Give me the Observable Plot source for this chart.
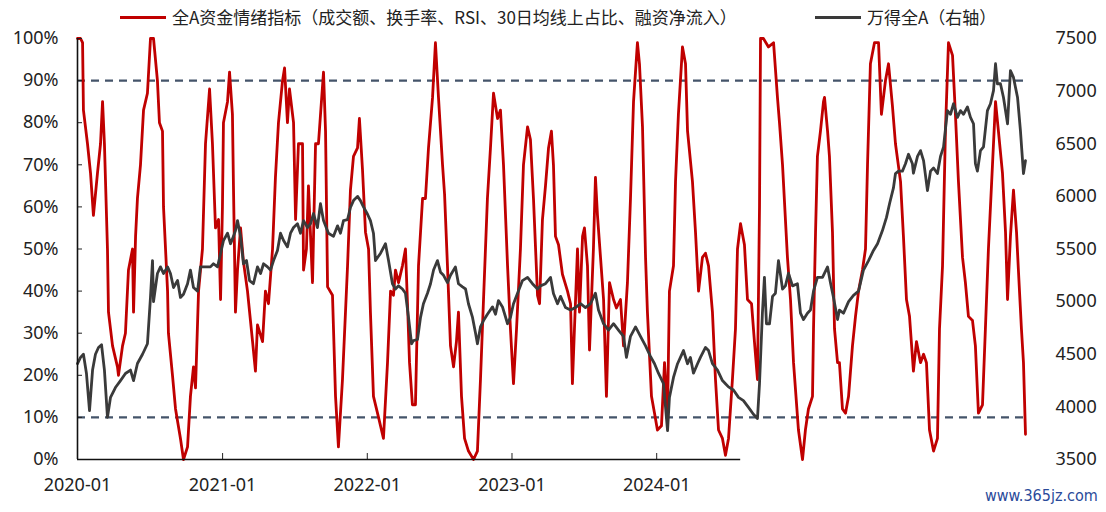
<!DOCTYPE html>
<html>
<head>
<meta charset="utf-8">
<script src="https://cdn.jsdelivr.net/npm/d3@7"></script>
<script src="https://cdn.jsdelivr.net/npm/@observablehq/plot@0.6"></script>
<style>
  html, body { margin: 0; padding: 0; background: #fff; }
  #wrap { position: relative; width: 1106px; height: 512px; overflow: hidden; font-family: "Noto Sans", "Noto Sans CJK SC", sans-serif; }
  #legend { position: relative; height: 22px; font-family: "Noto Sans CJK SC", sans-serif; font-size: 17px; color: #222; }
  .item { position: absolute; top: 5px; display: flex; align-items: center; white-space: nowrap; line-height: 24px; }
  .sw { display: inline-block; width: 46px; height: 3px; margin-right: 6px; }
  #wm { position: absolute; left: 985px; top: 486px; font-size: 16px; color: #2a4a9a; font-family: "Liberation Sans Narrow", "DejaVu Sans Condensed", sans-serif; }
  #chart svg { overflow: visible; }
</style>
</head>
<body>
<div id="wrap">
  <div id="legend"></div>
  <div id="chart"></div>
  <div id="wm"></div>
</div>
<script>
// ---- Data (time = years since 2020-01-01) ----
const seriesNames = ["全A资金情绪指标（成交额、换手率、RSI、30日均线上占比、融资净流入）", "万得全A（右轴）"];
const watermark = "www.365jz.com";

// Sentiment index (%), left axis
const redT = [0,.021,.035,.041,.069,.090,.110,.138,.159,.173,.186,.207,.214,.242,.276,.283,.311,.331,.352,.380,.387,.401,.414,.435,.456,.483,.504,.525,.552,.566,.587,.594,.622,.628,.656,.677,.711,.732,.760,.780,.801,.815,.836,.863,.884,.912,.932,.953,.974,.988,
1.001,1.008,1.036,1.050,1.070,1.077,1.091,1.105,1.126,1.146,1.174,1.209,1.229,1.243,1.278,1.298,1.319,1.347,1.367,1.388,1.416,1.430,1.450,1.464,1.492,1.506,1.526,1.554,1.561,1.581,1.595,1.623,1.644,1.664,1.699,1.713,1.727,1.761,1.782,1.802,1.830,1.865,1.885,1.906,1.934,1.947,1.968,1.989,
2.010,2.023,2.044,2.079,2.113,2.141,2.162,2.182,2.196,2.217,2.244,2.265,2.279,2.293,2.313,2.334,2.355,2.383,2.403,2.424,2.452,2.472,2.493,2.521,2.535,2.555,2.576,2.597,2.617,2.631,2.652,2.673,2.700,2.735,2.762,2.783,2.804,2.831,2.852,2.873,2.901,2.921,2.942,2.970,2.990,
3.011,3.032,3.059,3.080,3.108,3.128,3.149,3.177,3.191,3.211,3.232,3.253,3.273,3.287,3.301,3.322,3.349,3.384,3.405,3.418,3.432,3.453,3.467,3.488,3.501,3.522,3.536,3.563,3.577,3.591,3.612,3.633,3.653,3.674,3.702,3.722,3.750,3.771,3.798,3.819,3.840,3.867,3.881,3.902,3.923,3.936,3.964,3.985,
4.005,4.033,4.054,4.075,4.088,4.116,4.130,4.150,4.178,4.199,4.213,4.247,4.268,4.289,4.316,4.337,4.358,4.385,4.406,4.427,4.454,4.475,4.496,4.523,4.544,4.558,4.579,4.606,4.627,4.655,4.675,4.696,4.710,4.717,4.737,4.772,4.807,4.834,4.848,4.869,4.903,4.924,4.945,4.979,
5.007,5.027,5.048,5.076,5.083,5.097,5.110,5.131,5.152,5.159,5.180,5.193,5.214,5.228,5.249,5.262,5.283,5.304,5.325,5.352,5.373,5.394,5.421,5.442,5.456,5.476,5.504,5.532,5.552,5.580,5.601,5.628,5.649,5.684,5.704,5.725,5.746,5.773,5.794,5.822,5.843,5.863,5.884,5.912,5.939,5.953,5.974,5.994,
6.015,6.043,6.063,6.084,6.112,6.132,6.153,6.181,6.201,6.222,6.250,6.270,6.291,6.319,6.340,6.360,6.388,6.409,6.423,6.443,6.464,6.485,6.498,6.519,6.533,6.547];
const redV = [100,100,99,83,75,68,58,68,75,85,75,50,35,27,22,20,27,30,45,50,35,53,62,70,83,87,100,100,90,80,78,60,40,30,20,12,5,0,3,15,22,17,40,50,75,88,75,55,57,38,
60,80,85,92,82,65,35,45,55,47,40,28,21,32,28,40,37,50,67,80,90,93,80,88,80,57,75,75,45,50,65,42,75,75,92,78,41,39,15,3,19,46,64,72,74,81,69,54,
50,35,15,10,5,23,40,39,45,42,46,50,37,23,13,13,46,62,62,74,86,99,86,70,63,46,27,22,28,35,15,5,2,0,2,19,38,62,74,87,81,83,70,46,31,
18,31,50,70,79,76,62,39,37,57,65,74,78,70,53,51,44,40,37,18,31,50,35,53,55,46,26,50,67,58,48,38,15,42,38,36,38,27,42,62,85,99,94,79,48,35,15,11,
7,8,23,11,40,46,66,82,98,94,78,66,54,40,48,49,46,35,19,7,5,1,5,19,31,50,56,51,38,37,28,19,60,100,100,98,99,86,80,70,48,38,23,7,
0,7,12,15,31,54,72,78,85,86,78,72,54,31,23,23,12,11,15,27,34,40,45,50,70,94,99,99,82,90,94,84,75,66,53,38,34,21,28,23,25,23,7,2,5,31,46,78,
99,96,82,66,48,42,34,33,27,11,13,31,50,70,85,78,68,54,38,53,64,54,45,31,23,6];

// Wind All A index, right axis
const greyT = [0,.021,.041,.062,.083,.104,.124,.145,.166,.186,.207,.228,.262,.297,.331,.366,.387,.414,.449,.483,.504,.518,.525,.552,.573,.594,.622,.642,.663,.691,.711,.732,.760,.780,.801,.829,.849,.884,.918,.939,.967,.988,
1.008,1.036,1.057,1.077,1.091,1.105,1.126,1.146,1.167,1.188,1.215,1.243,1.264,1.285,1.312,1.333,1.354,1.381,1.402,1.423,1.450,1.471,1.492,1.519,1.540,1.561,1.588,1.609,1.630,1.657,1.678,1.699,1.733,1.768,1.796,1.816,1.837,1.865,1.885,1.906,1.934,1.954,1.975,
2.003,2.023,2.044,2.058,2.093,2.127,2.148,2.175,2.196,2.217,2.244,2.265,2.286,2.307,2.320,2.348,2.369,2.389,2.417,2.438,2.459,2.486,2.507,2.528,2.555,2.576,2.610,2.631,2.659,2.680,2.700,2.728,2.749,2.762,2.783,2.804,2.831,2.866,2.887,2.907,2.935,2.970,2.990,
3.011,3.039,3.073,3.108,3.142,3.177,3.197,3.232,3.267,3.287,3.315,3.336,3.370,3.405,3.439,3.474,3.508,3.543,3.577,3.598,3.633,3.667,3.702,3.736,3.771,3.791,3.819,3.854,3.888,3.923,3.957,3.985,
4.012,4.047,4.075,4.088,4.116,4.144,4.164,4.185,4.213,4.233,4.254,4.282,4.302,4.337,4.358,4.385,4.420,4.454,4.475,4.496,4.530,4.565,4.599,4.634,4.668,4.696,4.710,4.730,4.744,4.758,4.779,4.800,4.820,4.841,4.869,4.889,4.910,4.938,4.972,4.993,
5.014,5.041,5.062,5.083,5.110,5.145,5.180,5.200,5.221,5.249,5.262,5.290,5.325,5.359,5.394,5.428,5.463,5.497,5.525,5.559,5.587,5.608,5.635,5.649,5.670,5.697,5.718,5.739,5.766,5.773,5.801,5.822,5.843,5.870,5.891,5.912,5.939,5.960,5.981,
6.008,6.029,6.050,6.077,6.098,6.119,6.146,6.167,6.188,6.201,6.215,6.236,6.257,6.284,6.305,6.326,6.340,6.353,6.374,6.395,6.423,6.443,6.464,6.492,6.512,6.533,6.547];
const greyV = [4412,4470,4500,4317,3965,4350,4500,4564,4590,4350,3900,4090,4184,4250,4317,4350,4250,4412,4500,4600,5040,5390,5000,5267,5330,5267,5330,5267,5134,5200,5040,5070,5170,5300,5134,5100,5330,5330,5330,5360,5330,5457,
5580,5650,5550,5620,5675,5770,5620,5360,5390,5200,5170,5330,5267,5360,5330,5300,5390,5486,5650,5580,5520,5650,5704,5740,5650,5770,5704,5740,5837,5704,5930,5770,5650,5620,5720,5650,5770,5780,5894,5960,6000,5960,5900,
5830,5770,5650,5390,5460,5550,5390,5170,5120,5150,5120,5080,4850,4600,4630,4640,4850,4980,5080,5170,5300,5390,5280,5250,5180,5250,5330,5170,5140,5120,4980,4850,4700,4600,4760,4820,4880,4950,4880,5010,4950,4790,4850,
4980,5080,5200,5230,5170,5120,5150,5170,5230,5077,4980,5050,4944,4920,4944,4980,4944,4980,5080,4920,4790,4730,4790,4730,4670,4470,4670,4760,4670,4580,4480,4410,
4320,4220,3775,4090,4280,4410,4470,4535,4410,4470,4320,4410,4470,4565,4535,4410,4350,4250,4220,4190,4160,4090,4060,3995,3930,3890,4220,4890,5230,4790,4790,5050,5080,5390,5120,5150,5270,5150,5170,4890,
4830,4890,4920,5100,5230,5230,5330,5180,5040,4830,4920,4890,5000,5060,5100,5300,5390,5486,5550,5675,5800,5930,6080,6217,6240,6240,6310,6400,6310,6220,6380,6435,6340,6055,6240,6270,6217,6380,6470,
6815,6780,6880,6750,6815,6780,6850,6750,6690,6310,6240,6435,6470,6815,6880,7005,7260,7070,7070,6940,6690,7195,7130,6940,6625,6217,6340];

const leftTicks = [0,10,20,30,40,50,60,70,80,90,100];
const rightTicks = [3500,4000,4500,5000,5500,6000,6500,7000,7500];
const xTickYears = [2020,2021,2022,2023,2024];
const thresholds = [10, 90];

// ---- Build ----
const t0 = Date.UTC(2020, 0, 1);
const toDate = t => new Date(t0 + t * 365.25 * 864e5);
const right = d3.scaleLinear().domain([3500, 7500]).range([0, 100]);

const red = redT.map((t, i) => ({date: toDate(t), v: redV[i]}));
const grey = greyT.map((t, i) => ({date: toDate(t), v: right(greyV[i]), raw: greyV[i]}));

const xStart = toDate(0), xEnd = toDate(redT[redT.length - 1]);
const axisCut = toDate(4.58);

const legend = document.getElementById("legend");
[[seriesNames[0], "#c00000", 120], [seriesNames[1], "#3a3a3a", 815]].forEach(([name, c, left]) => {
  const it = document.createElement("div");
  it.className = "item";
  it.style.left = left + "px";
  it.innerHTML = `<span class="sw" style="background:${c}"></span><span>${name}</span>`;
  legend.appendChild(it);
});
document.getElementById("wm").textContent = watermark;

const chart = Plot.plot({
  width: 1106,
  height: 490,
  marginTop: 16,
  marginBottom: 53,
  marginLeft: 77,
  marginRight: 81,
  style: {fontSize: "18px", fontFamily: "'Noto Sans', 'Noto Sans CJK SC', sans-serif", color: "#222", background: "transparent", overflow: "visible"},
  x: {type: "utc", domain: [xStart, xEnd], label: null},
  y: {domain: [0, 100], label: null},
  marks: [
    Plot.ruleY(thresholds, {stroke: "#44546a", strokeWidth: 2.2, strokeDasharray: "8,6"}),
    Plot.line(red, {x: "date", y: "v", stroke: "#c00000", strokeWidth: 2.8, strokeLinejoin: "round"}),
    Plot.line(grey, {x: "date", y: "v", stroke: "#3a3a3a", strokeWidth: 2.8, strokeLinejoin: "round"}),
    Plot.axisY({anchor: "left", label: null, ticks: leftTicks, tickFormat: d => d + "%", tickSize: -5, tickPadding: 24, stroke: "#222"}),
    Plot.axisY({anchor: "right", label: null, ticks: rightTicks.map(right), tickFormat: d => String(Math.round(right.invert(d))), tickSize: 0, tickPadding: 30}),
    Plot.axisX({label: null, ticks: xTickYears.map(y => new Date(Date.UTC(y, 0, 1))), tickFormat: d3.utcFormat("%Y-%m"), tickSize: -6, tickPadding: 25, stroke: "#222"}),
    Plot.ruleX([xStart], {y1: 0, y2: 100, stroke: "#111", strokeWidth: 1.6}),
    Plot.ruleY([0], {x1: xStart, x2: axisCut, stroke: "#111", strokeWidth: 1.6})
  ]
});
document.getElementById("chart").appendChild(chart);
</script>
</body>
</html>
